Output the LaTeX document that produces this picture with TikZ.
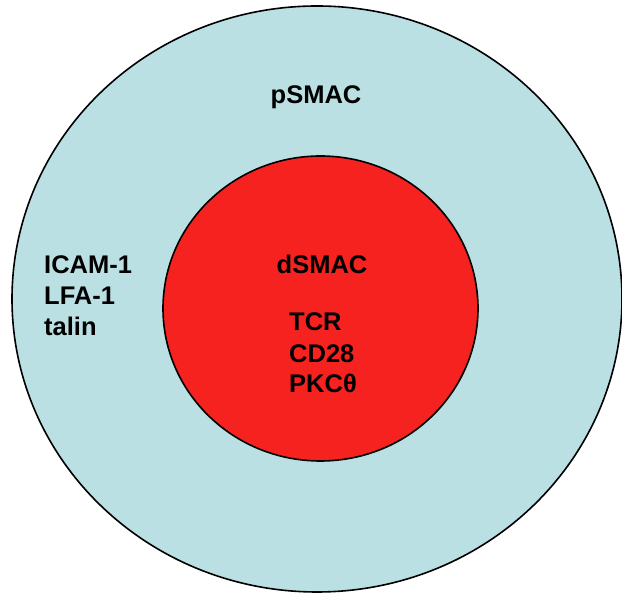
\documentclass[tikz,border=0pt]{standalone}
\usepackage{fontspec}
\setmainfont{Liberation Sans}
\usepackage{tikz}
\usetikzlibrary{positioning}
\definecolor{smacblue}{HTML}{BAE0E3}
\definecolor{smacred}{HTML}{F5221F}

\begin{document}
\begin{tikzpicture}[x=1pt, y=1pt,
    label/.style={font=\bfseries\fontsize{25.5}{30}\selectfont, inner sep=0pt}]
    \useasboundingbox (0,0) rectangle (622,594);
    \begin{scope}
      \clip (0,0) rectangle (622,594);
      \filldraw[fill=smacblue, draw=black, line width=1.6pt] (317,295) ellipse [x radius=305, y radius=293];
    \end{scope}
    \filldraw[fill=smacred, draw=black, line width=1.6pt] (320.5,285.5) ellipse [x radius=157.5, y radius=152.5];
    \node[label, anchor=base] (psmac) at (316,490) {pSMAC};
    \node[label, anchor=base] (dsmac) at (322,320.5) {dSMAC};
    \node[label, anchor=base west] (icam) at (44,320.5) {ICAM-1};
    \node[label, anchor=base west] (lfa) at (44,289) {LFA-1};
    \node[label, anchor=base west] (talin) at (44,258) {talin};
    \node[label, anchor=base west] (tcr) at (289,263) {TCR};
    \node[label, anchor=base west] (cd) at (289,231.5) {CD28};
    \node[label, anchor=base west] (pkc) at (289,201) {PKCθ};
  \end{tikzpicture}
\end{document}
